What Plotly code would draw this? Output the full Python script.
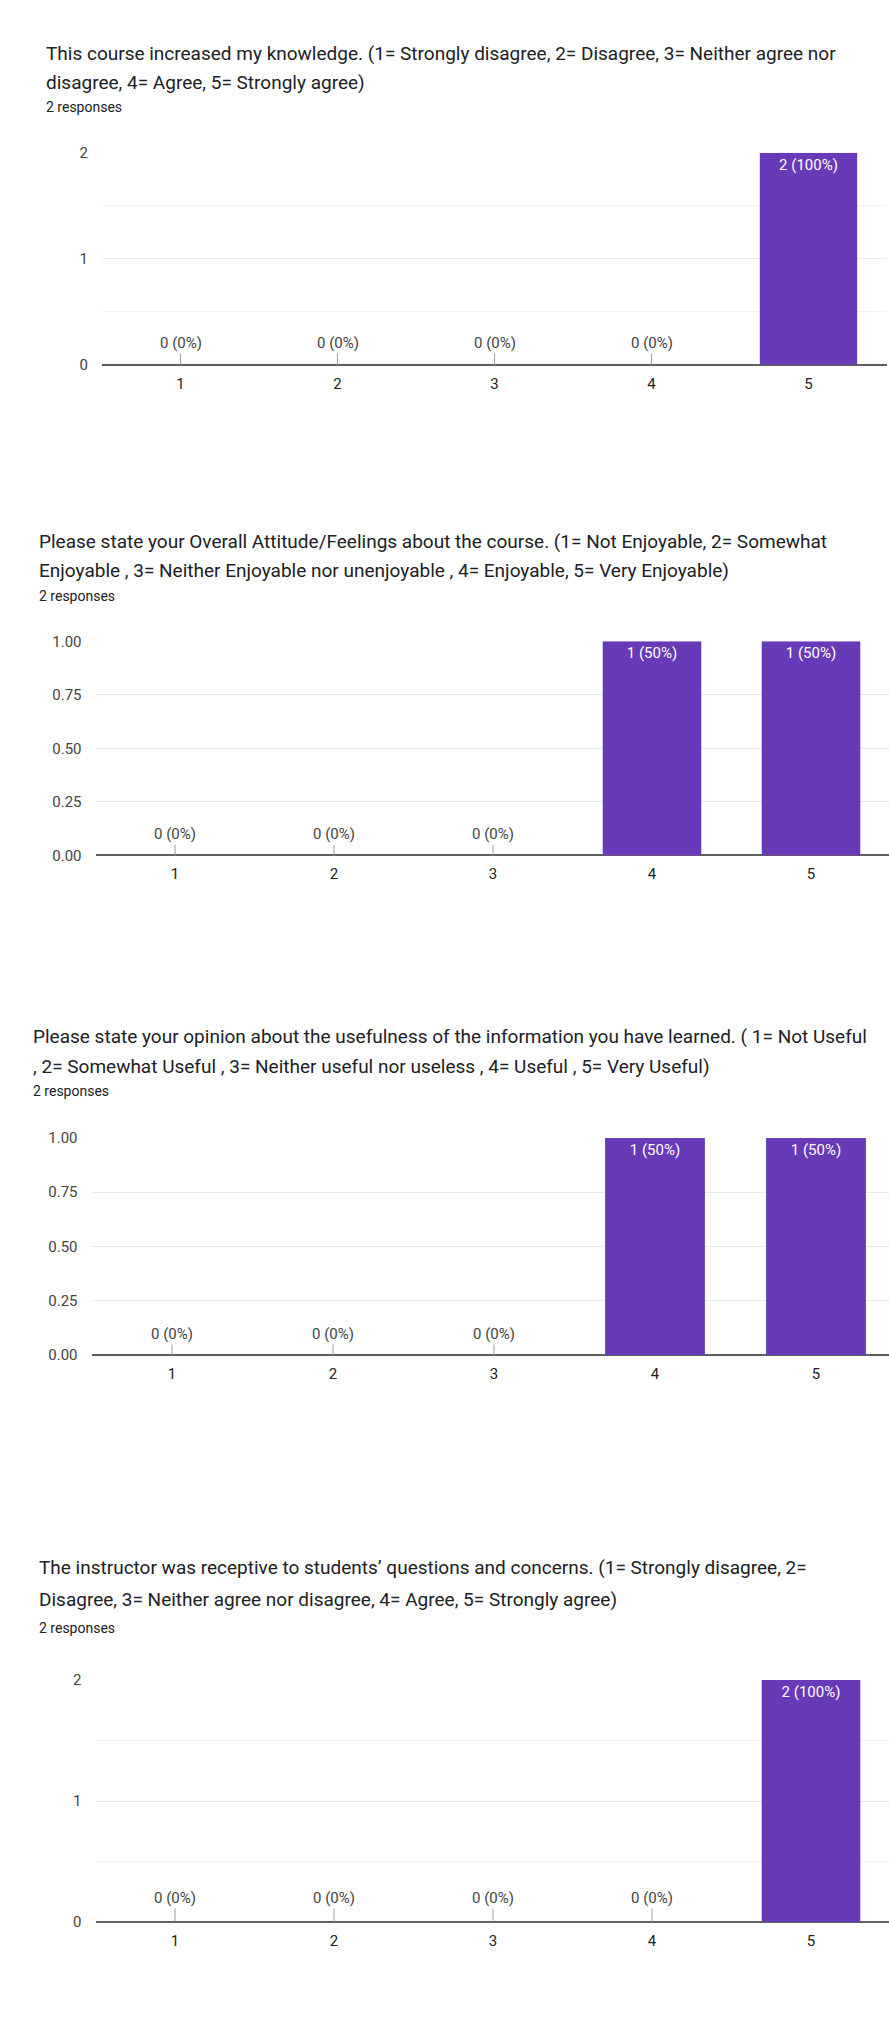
import plotly.graph_objects as go

W, H = 889, 2035

categories = [1, 2, 3, 4, 5]
tick_labels = ["1", "2", "3", "4", "5"]
knowledge = [0, 0, 0, 0, 2]
attitude = [0, 0, 0, 1, 1]
usefulness = [0, 0, 0, 1, 1]
receptive = [0, 0, 0, 0, 2]
responses_text = "2 responses"

titles = [
    ["This course increased my knowledge. (1= Strongly disagree, 2= Disagree, 3= Neither agree nor",
     "disagree, 4= Agree, 5= Strongly agree)"],
    ["Please state your Overall Attitude/Feelings about the course. (1= Not Enjoyable, 2= Somewhat",
     "Enjoyable , 3= Neither Enjoyable nor unenjoyable , 4= Enjoyable, 5= Very Enjoyable)"],
    ["Please state your opinion about the usefulness of the information you have learned. ( 1= Not Useful",
     ", 2= Somewhat Useful , 3= Neither useful nor useless , 4= Useful , 5= Very Useful)"],
    ["The instructor was receptive to students\u2019 questions and concerns. (1= Strongly disagree, 2=",
     "Disagree, 3= Neither agree nor disagree, 4= Agree, 5= Strongly agree)"],
]
series = [knowledge, attitude, usefulness, receptive]

# layout in pixels (style/positions)
panels = [
    dict(tx=44, t1=45, t2=74, tr=99, left=102, step=157, top=145, bottom=359, ymax=2, dtick=1, minor=0.5, fmt="d", stem=22),
    dict(tx=37, t1=537, t2=567, tr=592, left=95.5, step=159, top=638, bottom=854, ymax=1, dtick=0.25, minor=None, fmt=".2f", stem=21),
    dict(tx=31, t1=1037, t2=1067, tr=1092, left=91.5, step=161, top=1139, bottom=1358, ymax=1, dtick=0.25, minor=None, fmt=".2f", stem=21),
    dict(tx=37, t1=1572, t2=1605, tr=1633, left=95.5, step=159, top=1686, bottom=1930, ymax=2, dtick=1, minor=0.5, fmt="d", stem=24),
]

PURPLE = "#673ab7"
GRID = "#ebebeb"
FONT = "Roboto"

fig = go.Figure()
annotations = []

def py(px):
    return 1 - px / H

for i, (p, vals, tl) in enumerate(zip(panels, series, titles)):
    n = i + 1
    xa = "x" if n == 1 else f"x{n}"
    ya = "y" if n == 1 else f"y{n}"
    total = sum(vals)
    labels = [f"{v} ({round(100 * v / total)}%)" for v in vals]
    fig.add_trace(go.Bar(
        x=categories, y=vals, xaxis=xa, yaxis=ya,
        marker=dict(color=PURPLE, line=dict(width=0)),
        width=0.62,
        text=[lab if v > 0 else "" for lab, v in zip(labels, vals)],
        textposition="inside", insidetextanchor="end", textangle=0,
        constraintext="none",
        textfont=dict(color="white", size=15, family=FONT),
        hoverinfo="skip", showlegend=False,
    ))
    for c, v, lab in zip(categories, vals, labels):
        if v == 0:
            annotations.append(dict(
                x=c, y=0, xref=xa, yref=ya, text=lab,
                showarrow=True, arrowhead=0, arrowwidth=1, arrowcolor="#9e9e9e",
                ax=0, ay=-p["stem"], font=dict(size=15, color="#444444", family=FONT),
                yanchor="middle",
            ))
    right = min(W, p["left"] + 5 * p["step"])
    xr = [0.5, 0.5 + (right - p["left"]) / p["step"]]
    xaxis = dict(
        domain=[p["left"] / W, right / W], range=xr, anchor=ya,
        tickvals=categories, ticktext=tick_labels, showgrid=False, zeroline=False,
        showline=False, ticks="outside", ticklen=5, tickcolor="rgba(0,0,0,0)",
        tickfont=dict(size=15, color="#222222", family=FONT), fixedrange=True,
    )
    yaxis = dict(
        domain=[py(p["bottom"]), py(p["top"])], range=[0, p["ymax"]], anchor=xa,
        dtick=p["dtick"], tick0=0, tickformat=p["fmt"],
        showgrid=True, gridcolor=GRID, gridwidth=1,
        zeroline=True, zerolinecolor="#5f5f5f", zerolinewidth=2,
        showline=False, ticks="outside", ticklen=10, tickcolor="rgba(0,0,0,0)",
        tickfont=dict(size=15, color="#444444", family=FONT), fixedrange=True,
    )
    if p["minor"]:
        yaxis["minor"] = dict(dtick=p["minor"], showgrid=True, gridcolor="#f2f2f2", gridwidth=1)
    fig.update_layout(**{("xaxis" if n == 1 else f"xaxis{n}"): xaxis,
                         ("yaxis" if n == 1 else f"yaxis{n}"): yaxis})
    for txt, yy, sz in [(tl[0], p["t1"], 19), (tl[1], p["t2"], 19), (responses_text, p["tr"], 14)]:
        annotations.append(dict(
            x=p["tx"] / W, y=py(yy), xref="paper", yref="paper", text=txt,
            showarrow=False, xanchor="left", yanchor="middle",
            font=dict(size=sz, color="#202124", family=FONT),
        ))

fig.update_layout(
    width=W, height=H, margin=dict(l=0, r=0, t=0, b=0),
    paper_bgcolor="white", plot_bgcolor="white",
    annotations=annotations, bargap=0.38,
)

fig.write_html("out.html", config={"displayModeBar": False},
               post_script="document.body.style.margin='0';")
